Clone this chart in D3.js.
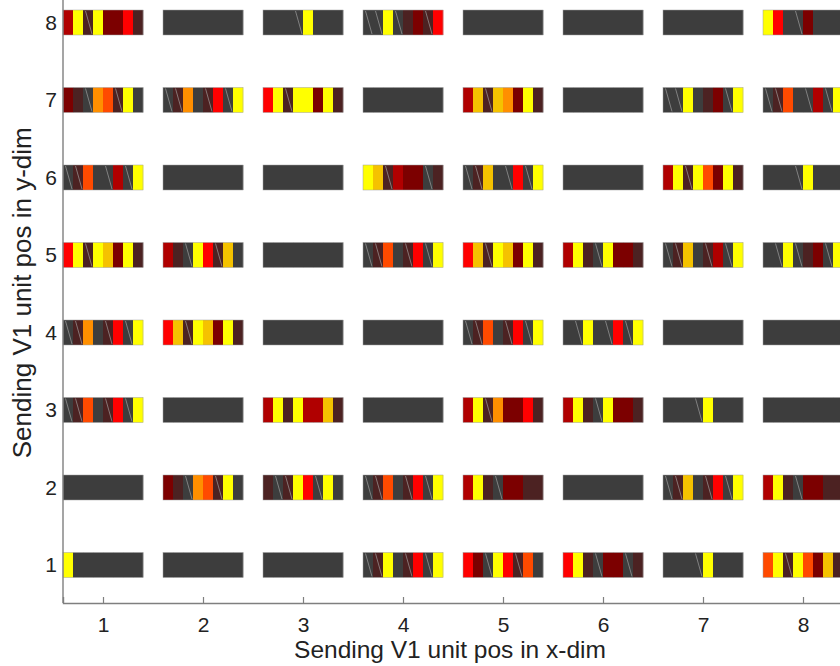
<!DOCTYPE html>
<html>
<head>
<meta charset="utf-8">
<script src="https://cdn.jsdelivr.net/npm/d3@7/dist/d3.min.js"></script>
<style>
  html, body { margin: 0; padding: 0; background: #fff; }
  svg { display: block; }
  text { font-family: "Liberation Sans", Arial, sans-serif; fill: #222; }
</style>
</head>
<body>
<svg id="chart" width="840" height="666"></svg>
<script>
// ---- data ----
const xTicks = [1, 2, 3, 4, 5, 6, 7, 8];
const yTicks = [1, 2, 3, 4, 5, 6, 7, 8];
const xTitle = "Sending V1 unit pos in x-dim";
const yTitle = "Sending V1 unit pos in y-dim";
// colour level codes per segment (8 per bar); lowercase = segment carries a thin slash mark
// G gray, B brown, M maroon, D dark red, R red, O orange-red, A orange, K gold, Y yellow
const row8 = ["DYbYMMRB", "GGGGGGGG", "GGGgYGGG", "ggYgBMbR", "GGGGGGGG", "GGGGGGGG", "GGGGGGGG", "YRGgMGGG"];
const row7 = ["MBgAObYG", "gbAGbRgY", "RYbYYMYB", "GGGGGGGG", "DKbKAMYB", "GGGGGGGG", "ggYGBMgY", "gbOGgDgY"];
const row6 = ["gbOGgDgY", "GGGGGGGG", "GGGGGGGG", "YKbDMMgB", "gbKGgRgY", "GGGGGGGG", "DYbYOMYB", "GGGgYGGG"];
const row5 = ["RYbYKMYB", "DBgYRbKG", "GGGGGGGG", "gbOGbRgY", "RKbYKMYB", "DYBgYMMB", "gbKGbDgY", "GgYgBMgY"];
const row4 = ["gbAGbRgY", "RKbYKMYB", "GGGGGGGG", "GGGGGGGG", "gbOGbRgY", "GgYGgRgY", "GGGGGGGG", "GGGGGGGG"];
const row3 = ["gbOGbRgY", "GGGGGGGG", "DYBYDDKB", "GGGGGGGG", "DYbAMMRB", "DYBgYMMB", "GGGgYGGG", "GGGGGGGG"];
const row2 = ["GGGGGGGG", "MBgAObYG", "BgbYRgYG", "gbOGbRgY", "DYBgMMBB", "GGGGGGGG", "gbKGbRgY", "DYBgMMBB"];
const row1 = ["YGGGGGGG", "GGGGGGGG", "GGGGGGGG", "gbYGbRgY", "RMgYRbOG", "RYBgMMgB", "GGGgYGGG", "OYbYOMKB"];
const rows = [row1, row2, row3, row4, row5, row6, row7, row8]; // index 0 -> y = 1
const levelCodes = ["G", "B", "M", "D", "R", "O", "A", "K", "Y"];

// ---- styling ----
const levelColors = ["#3d3d3d", "#4c2222", "#7c0000", "#b00000", "#ff0000", "#ff4a00", "#ff8f00", "#f5c200", "#ffff00"];
const color = d3.scaleOrdinal().domain(levelCodes).range(levelColors);

const svg = d3.select("#chart");
const x = d3.scaleLinear().domain([0.6, 8.4]).range([63, 843]);
const y = d3.scaleLinear().domain([1, 8]).range([565, 22.5]);
const axisBottomY = y(0.51);

const segWidthUnits = 0.1;
const barHalf = 0.4;
const barHeight = 25;

// bars
const cells = [];
rows.forEach((row, ri) => {
  row.forEach((pattern, ci) => {
    cells.push({ xv: xTicks[ci], yv: yTicks[ri], pattern });
  });
});

const gBars = svg.append("g");
cells.forEach(c => {
  const top = y(c.yv) - barHeight / 2;
  const g = gBars.append("g");
  const segs = c.pattern.split("").map((ch, i) => ({
    code: ch.toUpperCase(),
    slash: ch !== ch.toUpperCase(),
    i
  }));
  g.selectAll("rect.seg").data(segs).enter().append("rect")
    .attr("class", "seg")
    .attr("x", d => x(c.xv - barHalf + d.i * segWidthUnits))
    .attr("y", top)
    .attr("width", d => x(c.xv - barHalf + (d.i + 1) * segWidthUnits) - x(c.xv - barHalf + d.i * segWidthUnits) + 0.3)
    .attr("height", barHeight)
    .attr("fill", d => color(d.code));
  g.selectAll("line.slash").data(segs.filter(d => d.slash)).enter().append("line")
    .attr("class", "slash")
    .attr("x1", d => x(c.xv - barHalf + (d.i + 0.25) * segWidthUnits))
    .attr("x2", d => x(c.xv - barHalf + (d.i + 0.9) * segWidthUnits))
    .attr("y1", top + 1)
    .attr("y2", top + barHeight - 1)
    .attr("stroke", "#a8a8a8")
    .attr("stroke-width", 0.8)
    .attr("opacity", 0.8);
  g.append("rect")
    .attr("x", x(c.xv - barHalf))
    .attr("y", top)
    .attr("width", x(c.xv + barHalf) - x(c.xv - barHalf))
    .attr("height", barHeight)
    .attr("fill", "none")
    .attr("stroke", "#a0a0a0")
    .attr("stroke-width", 0.5);
});

// axes
const axisColor = "#7f7f7f";
const xAxis = d3.axisBottom(x).tickValues(xTicks).tickSize(-6).tickPadding(14).tickFormat(d3.format("d"));
const gx = svg.append("g").attr("transform", `translate(0,${axisBottomY})`).call(xAxis);
gx.select(".domain").attr("stroke", axisColor).attr("stroke-width", 1.4);
gx.selectAll(".tick line").attr("stroke", axisColor).attr("stroke-width", 1.2);
gx.selectAll(".tick text").style("font-size", "21px").style("fill", "#222")
  .style("font-family", '"Liberation Sans", Arial, sans-serif');

const yAxis = d3.axisLeft(y).tickValues(yTicks).tickSize(-6).tickPadding(6).tickFormat(d3.format("d"));
const gy = svg.append("g").attr("transform", `translate(${x(0.6)},0)`).call(yAxis);
gy.select(".domain").attr("d", `M0,-20V${axisBottomY}`).attr("stroke", axisColor).attr("stroke-width", 1.4);
gy.selectAll(".tick line").attr("stroke", "none");
gy.selectAll(".tick text").style("font-size", "21px").style("fill", "#222")
  .style("font-family", '"Liberation Sans", Arial, sans-serif');

// titles
svg.append("text")
  .attr("x", 450).attr("y", 658)
  .attr("text-anchor", "middle")
  .style("font-size", "24.5px")
  .text(xTitle);
svg.append("text")
  .attr("transform", `translate(31,${y(4.5) - 1}) rotate(-90)`)
  .attr("text-anchor", "middle")
  .style("font-size", "26px")
  .text(yTitle);
</script>
</body>
</html>
